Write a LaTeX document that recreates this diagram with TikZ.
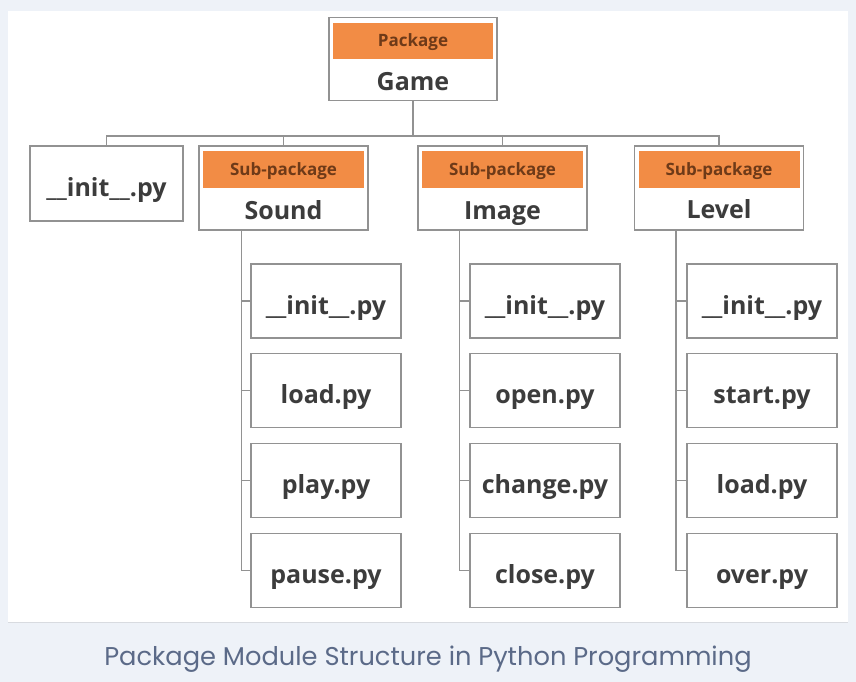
\documentclass[tikz,border=0pt]{standalone}
\usepackage{fontspec}
\setmainfont{Open Sans}
\newfontfamily\capfont{Poppins}
\definecolor{bgc}{HTML}{EEF2F8}
\definecolor{edgec}{HTML}{929292}
\definecolor{orangec}{HTML}{F28C45}
\definecolor{headtxt}{HTML}{6E3A18}
\definecolor{txtc}{HTML}{3C3C3C}
\definecolor{capc}{HTML}{5B6A88}
\tikzset{
  box/.style={draw=edgec, line width=1.3pt, fill=white, inner sep=0pt, text=txtc,
    font=\bfseries\fontsize{25}{29}\selectfont, text height=26pt, text depth=0pt},
  pkgbox/.style={draw=edgec, line width=1.3pt, fill=white, inner sep=0pt, minimum width=169pt, minimum height=84pt},
  filebox/.style={box, minimum width=150pt, minimum height=74pt},
  header/.style={fill=orangec, inner sep=0pt, minimum width=161pt, minimum height=37pt, text=headtxt,
    font=\bfseries\fontsize{17}{20}\selectfont, text height=12pt, text depth=0pt},
  pkgname/.style={inner sep=0pt, anchor=base, text=txtc, font=\bfseries\fontsize{25}{29}\selectfont},
  conn/.style={draw=edgec, line width=1.3pt}
}
\begin{document}
\begin{tikzpicture}[x=1pt,y=-1pt]
\useasboundingbox (0,0) rectangle (856,682);
\fill[bgc] (0,0) rectangle (856,682);
\fill[white] (8,11) rectangle (848,622);
\draw[line width=0.8pt, draw=bgc!80!gray] (8,622) -- (848,622);
% top level
\node[pkgbox, minimum width=168pt, minimum height=83pt] (game) at (413,59) {};
\node[header, minimum width=160pt, minimum height=36pt] (gameh) at (413,41) {Package};
\node[pkgname] (gamet) at (413,91) {Game};
% second level
\node[box, minimum width=153pt, minimum height=75pt] (init0) at (106.5,183.5) {\_\_init\_\_.py};
\node[pkgbox] (sound) at (283.5,188) {};
\node[header] (soundh) at (283.5,169) {Sub-package};
\node[pkgname] (soundt) at (283.5,219) {Sound};
\node[pkgbox] (image) at (502.5,188) {};
\node[header] (imageh) at (502.5,169) {Sub-package};
\node[pkgname] (imaget) at (502.5,219) {Image};
\node[pkgbox] (level) at (719,188) {};
\node[header] (levelh) at (719,169) {Sub-package};
\node[pkgname] (levelt) at (719,218) {Level};
% children
\node[filebox] (s1) at (326,301) {\_\_init\_\_.py};
\node[filebox] (s2) at (326,390.5) {load.py};
\node[filebox] (s3) at (326,480.5) {play.py};
\node[filebox] (s4) at (326,570.5) {pause.py};
\node[filebox] (i1) at (545,301) {\_\_init\_\_.py};
\node[filebox] (i2) at (545,390.5) {open.py};
\node[filebox] (i3) at (545,480.5) {change.py};
\node[filebox] (i4) at (545,570.5) {close.py};
\node[filebox] (l1) at (762,301) {\_\_init\_\_.py};
\node[filebox] (l2) at (762,390.5) {start.py};
\node[filebox] (l3) at (762,480.5) {load.py};
\node[filebox] (l4) at (762,570.5) {over.py};
% connectors
\coordinate (bus) at (413,136);
\draw[conn] (game.south) -- (bus);
\draw[conn] (init0.north) |- (bus);
\draw[conn] (level.north) |- (bus);
\draw[conn] (sound.north) -- (sound.north |- bus);
\draw[conn] (image.north) -- (image.north |- bus);
\coordinate (sv) at ([xshift=43pt]sound.south west);
\coordinate (iv) at ([xshift=42pt]image.south west);
\coordinate (lv) at ([xshift=42pt]level.south west);
\foreach \p/\c in {sv/s, iv/i, lv/l}{
  \draw[conn] (\p) |- (\c4.west);
  \draw[conn] (\p |- \c1.west) -- (\c1.west);
  \draw[conn] (\p |- \c2.west) -- (\c2.west);
  \draw[conn] (\p |- \c3.west) -- (\c3.west);
}
% caption
\node[text=capc, font=\capfont\fontsize{25.7}{30}\selectfont, inner sep=0pt] (cap) at (428,659) {Package Module Structure in Python Programming};
\end{tikzpicture}
\end{document}
